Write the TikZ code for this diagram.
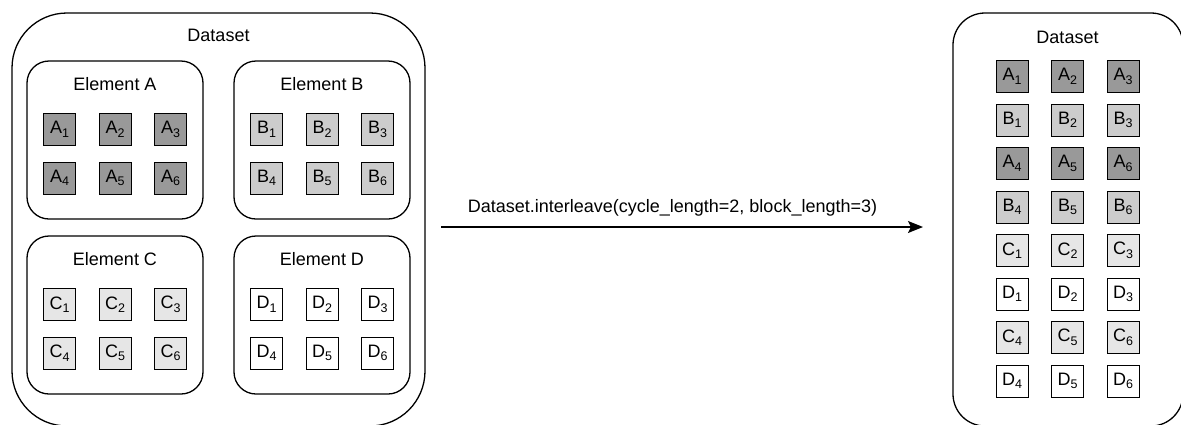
\documentclass[tikz,border=0pt]{standalone}
\usepackage{fontspec}
\setmainfont{Liberation Sans}
\usetikzlibrary{arrows.meta}
\definecolor{fillA}{HTML}{999999}
\definecolor{fillB}{HTML}{CCCCCC}
\definecolor{fillC}{HTML}{E6E6E6}
\definecolor{fillD}{HTML}{FFFFFF}
% index digit set below the letter
\newcommand\idx[1]{\raisebox{-3.5pt}{\fontsize{12.5}{13}\selectfont #1}}

\begin{document}
\begin{tikzpicture}[x=1pt,y=-1pt,
  txt/.style={font=\fontsize{18}{22}\selectfont, inner sep=0pt},
  frame/.style={draw=black, line width=1.3pt, inner sep=0pt, outer sep=0pt},
  cell/.style={draw=black, line width=1pt, minimum width=32pt, minimum height=32pt,
               inner sep=0pt, font=\fontsize{18}{22}\selectfont},
  flow/.style={draw=black, line width=1.3pt, -{Stealth[length=15pt,width=12pt,inset=3pt]}},
]
\useasboundingbox (0,0) rectangle (1181,424);

% source dataset with its four elements
\node[frame, minimum width=413pt, minimum height=413pt, rounded corners=55pt] (dsL) at (218.5,219.5) {};
\node[txt] (dsLt) at (218.5,35) {Dataset};

\foreach \L/\x/\y in {A/27/61, B/234/61, C/27/236, D/234/236} {
  \node[frame, minimum width=176pt, minimum height=158pt, rounded corners=22pt] (el\L) at (\x+88,\y+79) {};
  \node[txt] (el\L t) at (\x+88,\y+23) {Element \L};
  \foreach \r in {0,1} {
    \foreach \c in {0,1,2} {
      \pgfmathtruncatemacro\k{\r*3+\c+1}
      \node[cell, fill=fill\L] (l\L\k) at (\x+32.5+\c*55.5,\y+68.5+\r*48.5) {\L\idx{\k}};
    }
  }
}

% interleaved result
\node[frame, minimum width=230pt, minimum height=413pt, rounded corners=32pt] (dsR) at (1068,219.5) {};
\node[txt] (dsRt) at (1067.5,37) {Dataset};

\foreach \L/\n/\row in {A/1/0, B/1/1, A/4/2, B/4/3, C/1/4, D/1/5, C/4/6, D/4/7} {
  \foreach \c in {0,1,2} {
    \pgfmathtruncatemacro\k{\n+\c}
    \node[cell, fill=fill\L] (r\L\k) at (1012+\c*55.5,76.5+\row*43.5) {\L\idx{\k}};
  }
}

% transformation arrow
\coordinate (arrS) at (441,227);
\coordinate (arrE) at (923,227);
\draw[flow] (arrS) -- (arrE);
\node[txt, anchor=base] (op) at (672.5,212) {Dataset.interleave(cycle\_length=2, block\_length=3)};
\end{tikzpicture}
\end{document}
